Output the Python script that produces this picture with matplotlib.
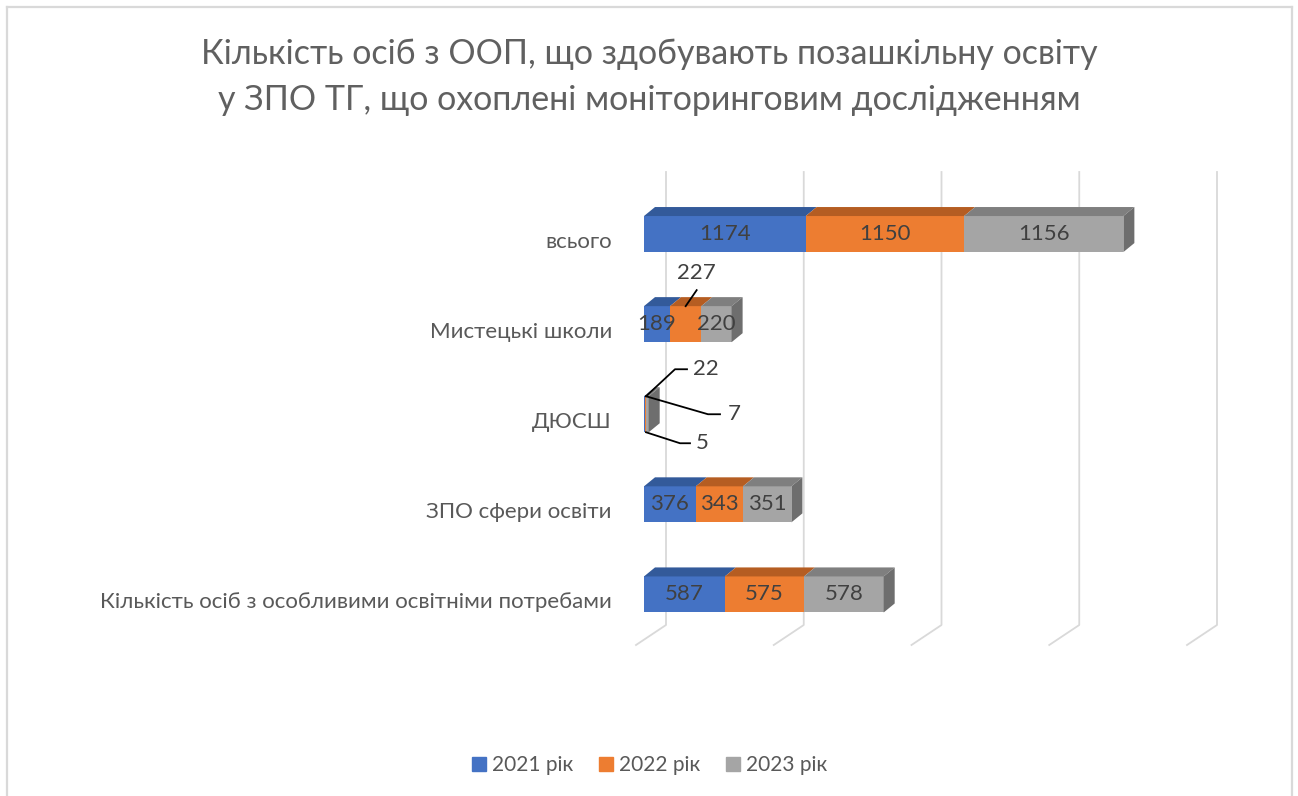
import matplotlib
matplotlib.use("Agg")
import matplotlib.pyplot as plt
from matplotlib.patches import Polygon
from matplotlib.lines import Line2D
from matplotlib import transforms

plt.rcParams['font.family'] = ['Lato', 'Noto Sans', 'DejaVu Sans']

# ---------------- data ----------------
categories = ["Кількість осіб з особливими освітніми потребами",
              "ЗПО сфери освіти",
              "ДЮСШ",
              "Мистецькі школи",
              "всього"]
series_names = ["2021 рік", "2022 рік", "2023 рік"]
values_2021 = [587, 376, 5, 189, 1174]
values_2022 = [575, 343, 7, 227, 1150]
values_2023 = [578, 351, 22, 220, 1156]
x_ticks = [0, 1000, 2000, 3000, 4000]
title_text = ("Кількість осіб з ООП, що здобувають позашкільну освіту\n"
              "у ЗПО ТГ, що охоплені моніторинговим дослідженням")

# ---------------- styles ----------------
W, H = 1298, 796
front_colors = ["#4472C4", "#ED7D31", "#A5A5A5"]
top_colors = ["#335A9A", "#B55D22", "#7F7F7F"]
side_color = "#6E6E6E"
grid_color = "#D9D9D9"
text_color = "#595959"
value_color = "#404040"
depth_dx, depth_dy = 11, 9      # bar depth in pixels
bar_h = 0.40

fig = plt.figure(figsize=(W / 100, H / 100), dpi=100)
fig.patch.set_facecolor("white")

# border (left, top, right)
def px(x, y):
    return x / W, 1 - y / H
for (x0, y0), (x1, y1) in [((7, 800), (7, 7)), ((7, 7), (1292, 7)), ((1292, 7), (1292, 800))]:
    a, b = px(x0, y0)
    c, d = px(x1, y1)
    fig.add_artist(Line2D([a, c], [b, d], color=grid_color, lw=1.6, transform=fig.transFigure))

ax = fig.add_axes([644 / W, (H - 639.5) / H, 551 / W, 450.5 / H])
ax.set_xlim(0, 4000)
ax.set_ylim(-0.5, 4.5)
ax.axis("off")

fig.text(0.5, 1 - 77 / H, title_text, ha="center", va="center",
         fontsize=24.5, color="#606060", linespacing=1.52)

fig.canvas.draw()
tD = ax.transData

# gridlines (3D wall + floor)
for v in x_ticks:
    X = tD.transform((v, 0))[0]
    xs = [X + 22, X + 22, X - 8]
    ys = [H - 172, H - 625, H - 645]
    ax.add_line(Line2D(xs, ys, color=grid_color, lw=1.3, transform=None, zorder=0, clip_on=False))

series = [values_2021, values_2022, values_2023]
n = len(categories)
left = [0] * n
for si, vals in enumerate(series):
    ax.barh(range(n), vals, left=left, height=bar_h, color=front_colors[si],
            edgecolor="none", zorder=2)
    for i, v in enumerate(vals):
        x0, y0 = tD.transform((left[i], i + bar_h / 2))
        x1, _ = tD.transform((left[i] + v, i + bar_h / 2))
        top = Polygon([(x0, y0), (x1, y0), (x1 + depth_dx, y0 + depth_dy), (x0 + depth_dx, y0 + depth_dy)],
                      closed=True, facecolor=top_colors[si], edgecolor="none",
                      transform=None, zorder=2, clip_on=False)
        ax.add_patch(top)
        if si == len(series) - 1:
            _, yb = tD.transform((0, i - bar_h / 2))
            side = Polygon([(x1, yb), (x1, y0), (x1 + depth_dx, y0 + depth_dy), (x1 + depth_dx, yb + depth_dy)],
                           closed=True, facecolor=side_color, edgecolor="none",
                           transform=None, zorder=2, clip_on=False)
            ax.add_patch(side)
    left = [l + v for l, v in zip(left, vals)]

# category labels
lab_tr = transforms.offset_copy(tD, fig=fig, x=-32, y=-8, units="dots")
for i, c in enumerate(categories):
    ax.text(0, i, c, ha="right", va="center", fontsize=16, color=text_color,
            transform=lab_tr, clip_on=False)

# value labels
special = {
    (3, 1): dict(line=[(0, 18), (11, 34)], text=(11, 51), ha="center"),
    (2, 2): dict(line=[(0, 18), (29, 45), (41, 45)], text=(47, 45), ha="left"),
    (2, 1): dict(line=[(0, 18), (62, 0), (74, 0)], text=(82, 0), ha="left"),
    (2, 0): dict(line=[(0, -18), (34, -29), (44, -29)], text=(50, -29), ha="left"),
}
left = [0] * n
for si, vals in enumerate(series):
    for i, v in enumerate(vals):
        cx = left[i] + v / 2
        if (i, si) in special:
            sp = special[(i, si)]
            bx, by = tD.transform((cx, i))
            if i == 2:
                bx = tD.transform((0, i))[0] + 2
            xs = [bx + dx for dx, dy in sp["line"]]
            ys = [by + dy for dx, dy in sp["line"]]
            ax.add_line(Line2D(xs, ys, color="black", lw=1.3, transform=None, zorder=4, clip_on=False))
            ax.text(bx + sp["text"][0], by + sp["text"][1], str(v), ha=sp["ha"], va="center",
                    fontsize=16, color=value_color, transform=None, zorder=5, clip_on=False)
        else:
            ax.text(cx, i, str(v), ha="center", va="center", fontsize=16,
                    color=value_color, zorder=5, clip_on=False)
    left = [l + v for l, v in zip(left, vals)]

# legend
handles = [Line2D([], [], marker="s", linestyle="", markersize=10, color=c) for c in front_colors]
fig.legend(handles, series_names, loc="center", bbox_to_anchor=(0.5, 1 - 765 / H), ncol=3,
           frameon=False, fontsize=15, labelcolor=text_color, handletextpad=0.2,
           columnspacing=1.2, handlelength=0.8)

fig.savefig("out.png", dpi=100)
